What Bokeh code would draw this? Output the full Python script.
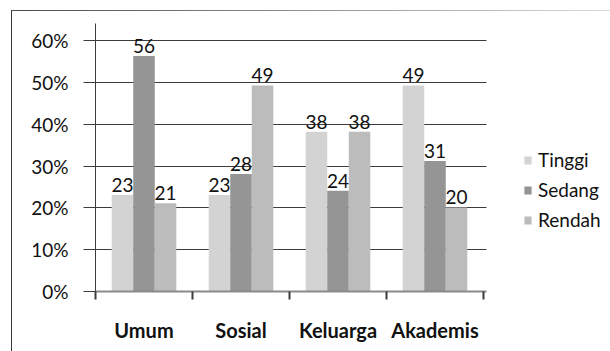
from bokeh.plotting import figure
from bokeh.models import (Range1d, FixedTicker, NumeralTickFormatter, ColumnDataSource,
                          LabelSet, Legend, LegendItem)
from bokeh.core.properties import value
from bokeh.embed import file_html
from bokeh.resources import INLINE

categories = ["Umum", "Sosial", "Keluarga", "Akademis"]
series_names = ["Tinggi", "Sedang", "Rendah"]
tinggi = [23.1, 23.1, 38.2, 49.3]
sedang = [56.3, 28.1, 24.1, 31.2]
rendah = [21.1, 49.3, 38.2, 20.1]
y_tick_values = [0, 10, 20, 30, 40, 50, 60]

colors = ["#d3d3d3", "#959595", "#bcbcbc"]
FONT = "Lato"
bar_w = 0.222
x_lo, x_axis_end = 0.0, 4.03
left = 95

p = figure(width=610, height=351, output_backend="svg", toolbar_location=None,
           x_range=Range1d(x_lo, x_lo + (610 - left) / 97.0), y_range=Range1d(0, 0.641),
           min_border_left=left, min_border_right=0, min_border_top=23,
           min_border_bottom=60)
p.outline_line_color = None
p.background_fill_color = "white"
p.border_fill_alpha = 0
p.styles = {
    "background-color": "white",
    "background-image": "linear-gradient(to right, #4a4a4a, #dadada), "
                        "linear-gradient(#3a3a3a, #3a3a3a)",
    "background-size": "599px 1px, 1px 341px",
    "background-position": "11px 10px, 11px 10px",
    "background-repeat": "no-repeat",
}

# grid
p.xgrid.visible = False
p.ygrid.ticker = FixedTicker(ticks=[v / 100 for v in y_tick_values])
p.ygrid.grid_line_color = "#3c3c3c"
p.ygrid.grid_line_width = 1
p.ygrid.cross_bounds = (x_lo, x_axis_end)

# y axis
ya = p.yaxis[0]
ya.ticker = FixedTicker(ticks=[v / 100 for v in y_tick_values])
ya.formatter = NumeralTickFormatter(format="0%")
ya.axis_line_color = "#3c3c3c"
ya.major_tick_line_color = "#3c3c3c"
ya.major_tick_out = 12
ya.major_tick_in = 0
ya.minor_tick_line_color = None
ya.major_label_standoff = 15
ya.major_label_text_font = FONT
ya.major_label_text_font_size = "19px"
ya.major_label_text_color = "#111111"

# x axis
xa = p.xaxis[0]
centers = [i + 0.5 for i in range(len(categories))]
xa.ticker = FixedTicker(ticks=centers, minor_ticks=list(range(len(categories) + 1)))
xa.major_label_overrides = {c: name for c, name in zip(centers, categories)}
xa.bounds = (x_lo, x_axis_end)
xa.axis_line_color = "#8a8a8a"
xa.axis_line_width = 2
xa.major_tick_line_color = None
xa.major_tick_out = 0
xa.major_tick_in = 0
xa.minor_tick_line_color = "#3c3c3c"
xa.minor_tick_out = 8
xa.minor_tick_in = 0
xa.minor_tick_line_width = 2
xa.major_label_standoff = 18
xa.major_label_text_font = FONT
xa.major_label_text_font_style = "bold"
xa.major_label_text_font_size = "20px"
xa.major_label_text_color = "#111111"

items = []
for j, (name, vals) in enumerate(zip(series_names, [tinggi, sedang, rendah])):
    src = ColumnDataSource(dict(
        x=[c + (j - 1) * bar_w for c in centers],
        top=[v / 100 for v in vals],
        label=[str(int(round(v))) for v in vals],
    ))
    r = p.vbar(x="x", top="top", width=bar_w, source=src,
               fill_color=colors[j], line_color=None)
    items.append(LegendItem(label=name, renderers=[r]))
    labels = LabelSet(x="x", y="top", text="label", source=src,
                      text_align="center", text_baseline="alphabetic",
                      y_offset=3, text_font=value(FONT), text_font_size="19px",
                      text_color="#111111")
    p.add_layout(labels)

legend = Legend(items=items, location=(428, 60), orientation="vertical")
legend.border_line_color = None
legend.background_fill_alpha = 0
legend.padding = 0
legend.margin = 0
legend.spacing = 7
legend.glyph_width = 9
legend.glyph_height = 10
legend.label_standoff = 6
legend.label_text_font = FONT
legend.label_text_font_size = "19px"
legend.label_text_color = "#111111"
p.add_layout(legend, "center")

open("out.html", "w").write(file_html(p, INLINE))
